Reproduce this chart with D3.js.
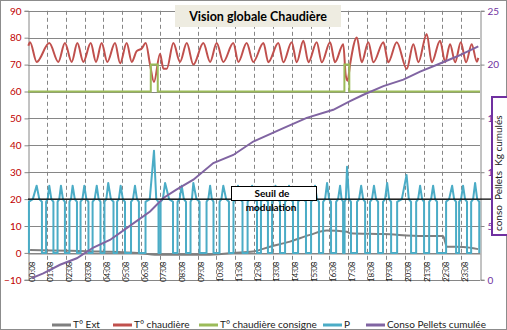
<!DOCTYPE html>
<html><head><meta charset="utf-8">
<script src="https://cdn.jsdelivr.net/npm/d3@7"></script>
<style>
html,body{margin:0;padding:0;background:#fff;overflow:hidden}
svg{display:block;font-family:Lato,"Open Sans",sans-serif}
</style></head><body>
<svg id="c" width="507" height="330"></svg>
<script>
// ---------- data (hours since 00:08) ----------
const hourLabels = ["00:08","01:08","02:08","03:08","04:08","05:08","06:08","07:08","08:08","09:08","10:08","11:08","12:08","13:08","14:08","15:08","16:08","17:08","18:08","19:08","20:08","21:08","22:08","23:08"];
const leftTicks = [-10,0,10,20,30,40,50,60,70,80,90];
const rightTicks = [0,5,10,15,20,25];

const extH = [0.11,3.82,5.95,7.01,9.49,10.89,11.95,12.85,13.91,14.97,15.86,16.93,17.10,18.85,20.98,22.04,22.24,23.10,23.90];
const extV = [1.1,0.5,-0.1,-0.7,-0.7,0,0.5,2.3,4.2,6.7,8.3,7.9,7.3,7.0,6.3,6.3,2.3,2.2,1.4];

const chaudH = [0.02,0.11,0.46,1.13,1.61,1.96,2.32,2.62,2.94,3.33,3.61,3.91,4.21,4.62,4.89,5.24,5.51,5.77,6.04,6.25,6.48,6.69,7.01,7.19,7.37,7.72,8.07,8.43,8.78,9.31,9.67,10.02,10.37,10.90,11.17,11.61,11.96,12.50,12.76,13.29,13.56,14.00,14.27,14.62,14.89,15.33,15.60,16.04,16.30,16.74,16.87,16.97,17.10,17.46,17.72,18.07,18.34,18.87,19.13,19.58,20.11,20.46,20.73,21.17,21.44,21.88,22.15,22.41,22.68,22.98,23.26,23.56,23.83,23.91];
const chaudV = [77,78.3,71,78,71,78,71,78,71,78,71,78,71,78,70.5,78,71,75,76,78,70,63.5,74,68.5,68.5,78,71,78,70,78,71,78,71,78,71,78,71,78,70.9,78,70.9,78.3,70.9,78.9,70.9,78.3,70.9,78.3,70.9,77.6,66,64,70,80.1,70.9,78.3,70.9,78.3,70.9,78.3,68.4,77.6,70.9,81.4,70.9,78.9,70.9,77.6,70.9,78.3,70.9,77.6,71.1,72.5];

const consH = [0,6.52,6.52,6.89,6.89,16.8,16.8,17.06,17.06,24];
const consV = [60,60,70,70,60,60,70,70,60,60];

// P : burner pulses (start, peak time, end, peak value)
const pStart = [0.05,0.96,1.57,2.20,2.79,3.43,4.06,4.73,5.47,6.24,7.04,7.94,8.63,9.48,10.17,10.91,11.66,12.37,12.96,13.65,14.34,15.03,15.67,16.36,16.81,17.47,18.16,18.85,19.60,20.61,21.30,22.20,22.89,23.53];
const pTop   = [0.46,1.13,1.75,2.37,2.99,3.65,4.26,4.92,5.68,6.69,7.28,8.16,8.78,9.67,10.37,11.15,11.90,12.53,13.14,13.86,14.55,15.24,15.88,16.57,16.94,17.69,18.37,19.07,20.10,20.82,21.51,22.52,23.10,23.74];
const pEnd   = [0.74,1.35,1.96,2.60,3.21,3.85,4.54,5.15,5.89,6.93,7.70,8.39,9.11,9.85,10.67,11.39,12.16,12.74,13.38,14.07,14.76,15.45,16.09,16.73,17.15,17.90,18.59,19.28,20.34,21.03,21.72,22.73,23.31,23.96];
const pPeak  = [25,25,25,25,25,25,26,25,25,38,26,25,26,25,25,25,25,24,25,25,24,25,26,25,32,25,25,26,29,25,25,25,25,26];

const pelletH = [0.20,0.81,1.70,2.59,3.47,4.35,5.24,6.48,7.19,7.90,8.78,9.84,10.90,11.96,13.56,14.80,16.21,17.10,17.81,18.87,19.93,20.82,21.88,22.77,23.91];
const pelletV = [0.16,0.6,1.4,2.0,3.0,3.7,4.8,6.35,7.6,8.4,9.3,10.85,11.6,12.85,14.1,15.05,15.8,16.6,17.2,18.0,18.6,19.35,20.1,20.75,21.7];

const seuil = 20;
const legendItems = ["T° Ext","T° chaudière","T° chaudière consigne","P","Conso Pellets cumulée"];
const colors = ["#7f7f7f","#c0504d","#9bbb59","#4bacc6","#8064a2"];

// ---------- layout ----------
const svg = d3.select("#c");
const X0 = 28, X1 = 480, YT = 10.8, YB = 279.8;
const x = d3.scaleLinear().domain([0,24]).range([X0,X1]);
const yL = d3.scaleLinear().domain([-10,90]).range([YB,YT]);
const yR = d3.scaleLinear().domain([0,25]).range([YB,YT]);

svg.append("rect").attr("x",0.5).attr("y",0.5).attr("width",506).attr("height",329)
  .attr("fill","#fff").attr("stroke","#8c8c8c");

// horizontal gridlines
svg.append("g").selectAll("line").data(leftTicks).join("line")
  .attr("x1",X0).attr("x2",X1).attr("y1",d=>Math.round(yL(d))+0.5).attr("y2",d=>Math.round(yL(d))+0.5)
  .attr("stroke","#868686").attr("stroke-width",1);
// vertical dashed gridlines
svg.append("g").selectAll("line").data(d3.range(1,24)).join("line")
  .attr("x1",d=>Math.round(x(d))+0.5).attr("x2",d=>Math.round(x(d))+0.5).attr("y1",YT).attr("y2",YB)
  .attr("stroke","#868686").attr("stroke-dasharray","4,3");

// left axis
const gL = svg.append("g").attr("transform",`translate(${X0+0.5},0)`)
  .call(d3.axisLeft(yL).tickValues(leftTicks).tickSize(4).tickPadding(3));
gL.select(".domain").attr("stroke","#868686");
gL.selectAll(".tick line").attr("stroke","#868686");
gL.selectAll("text").attr("fill","#c00000").attr("font-size","10px").attr("font-family","Lato,sans-serif");

// right axis
const gR = svg.append("g").attr("transform",`translate(${X1+0.5},0)`)
  .call(d3.axisRight(yR).tickValues(rightTicks).tickSize(4).tickPadding(3));
gR.select(".domain").attr("stroke","#868686");
gR.selectAll(".tick line").attr("stroke","#868686");
gR.selectAll("text").attr("fill","#7030a0").attr("font-size","10px").attr("font-family","Lato,sans-serif");

// bottom category axis at value 0
const gB = svg.append("g").attr("transform",`translate(0,${Math.round(yL(0))+0.5})`)
  .call(d3.axisBottom(x).tickValues(d3.range(0,24)).tickFormat(i=>hourLabels[i]).tickSize(0));
gB.select(".domain").attr("stroke","#868686");
gB.selectAll("text").attr("font-size","8px").attr("fill","#222").attr("font-family","Lato,sans-serif")
  .attr("text-anchor","end").attr("dy",0).attr("y",0)
  .attr("transform","translate(6,8) rotate(-90)");

// series
const line = (xs,ys,ysc,curve)=>d3.line().x((d,i)=>x(xs[i])).y((d,i)=>ysc(ys[i])).curve(curve||d3.curveLinear)(xs);

svg.append("path").attr("d",line(extH,extV,yL,d3.curveMonotoneX)).attr("fill","none").attr("stroke",colors[0]).attr("stroke-width",2);
svg.append("path").attr("d",line(chaudH,chaudV,yL,d3.curveMonotoneX)).attr("fill","none").attr("stroke",colors[1]).attr("stroke-width",2);
svg.append("path").attr("d",line(consH,consV,yL)).attr("fill","none").attr("stroke",colors[2]).attr("stroke-width",2);

const pH = [], pV = [];
pStart.forEach((s,i)=>{
  pH.push(s,s,(s+pTop[i])/2,pTop[i],(pTop[i]+pEnd[i])/2,pEnd[i],pEnd[i]);
  pV.push(0,19,20,pPeak[i],20,19,0);
  if(i<pStart.length-1){pH.push(pStart[i+1]);pV.push(0);}
});
svg.append("path").attr("d",line(pH,pV,yL)).attr("fill","none").attr("stroke",colors[3]).attr("stroke-width",2).attr("stroke-linejoin","round");

svg.append("path").attr("d",line(pelletH,pelletV,yR)).attr("fill","none").attr("stroke",colors[4]).attr("stroke-width",2);

// seuil line
svg.append("line").attr("x1",X0).attr("x2",505).attr("y1",yL(seuil)).attr("y2",yL(seuil)).attr("stroke","#000").attr("stroke-width",1.3);
svg.append("rect").attr("x",231.5).attr("y",186.5).attr("width",85).attr("height",14).attr("fill","#fff").attr("stroke","#000");
svg.append("text").attr("x",272).attr("y",197).attr("text-anchor","middle").attr("font-weight","bold").attr("font-size","10px").text("Seuil de");
svg.append("text").attr("x",271).attr("y",211).attr("text-anchor","middle").attr("font-weight","bold").attr("font-size","10px").text("modulation");

// title
svg.append("rect").attr("x",175).attr("y",5).attr("width",166).attr("height",22).attr("fill","#eeece1");
svg.append("text").attr("x",258).attr("y",20.5).attr("text-anchor","middle").attr("font-weight","bold").attr("font-size","12.5px").text("Vision globale  Chaudière");

// right axis title box
svg.append("defs").append("clipPath").attr("id","rt").append("rect").attr("x",492).attr("y",97).attr("width",14).attr("height",137);
svg.append("rect").attr("x",492).attr("y",97).attr("width",16).attr("height",138).attr("fill","#fff").attr("stroke","#7030a0").attr("stroke-width",2);
svg.append("g").attr("clip-path","url(#rt)")
  .append("text").attr("transform","translate(502,231) rotate(-90)").attr("font-size","10px").attr("fill","#222").attr("text-anchor","start")
  .style("white-space","pre").text("conso  Pellets  Kg cumulés");

// legend
const lx = [52,113,199,323,366];
const lg = svg.append("g");
legendItems.forEach((t,i)=>{
  lg.append("line").attr("x1",lx[i]).attr("x2",lx[i]+19).attr("y1",325).attr("y2",325).attr("stroke",colors[i]).attr("stroke-width",3);
  lg.append("text").attr("x",lx[i]+21).attr("y",328).attr("font-size","10px").attr("fill","#222").text(t);
});
</script></body></html>
